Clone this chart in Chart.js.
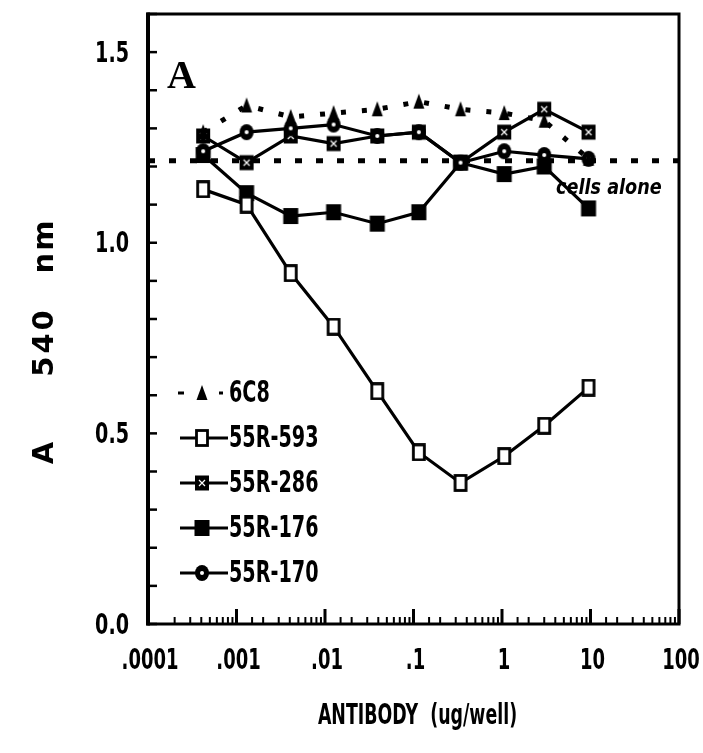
<!DOCTYPE html>
<html>
<head>
<meta charset="utf-8">
<script src="https://cdn.jsdelivr.net/npm/chart.js@4.4.0/dist/chart.umd.min.js"></script>
<style>
  html, body { margin: 0; padding: 0; background: #fff; }
  #wrap { width: 703px; height: 753px; }
</style>
</head>
<body>
<div id="wrap"><canvas id="chart"></canvas></div>
<script>
// antibody dose (ug/well) of each well, as placed on the log axis
const doses = [0.00042, 0.0013, 0.0041, 0.0125, 0.039, 0.115, 0.34, 1.06, 3.0, 9.5];

// A 540 nm for each antibody
const s6C8    = [1.29, 1.36, 1.33, 1.34, 1.35, 1.37, 1.35, 1.34, 1.32, 1.22];
const s55R593 = [1.14, 1.10, 0.92, 0.78, 0.61, 0.45, 0.37, 0.44, 0.52, 0.62];
const s55R286 = [1.28, 1.21, 1.28, 1.26, 1.28, 1.29, 1.21, 1.29, 1.35, 1.29];
const s55R176 = [1.23, 1.13, 1.07, 1.08, 1.05, 1.08, 1.21, 1.18, 1.20, 1.09];
const s55R170 = [1.24, 1.29, 1.30, 1.31, 1.28, 1.29, 1.21, 1.24, 1.23, 1.22];
const cellsAlone = 1.215;

const seriesNames = ['6C8', '55R-593', '55R-286', '55R-176', '55R-170'];
const xTickLabels = ['.0001', '.001', '.01', '.1', '1', '10', '100'];
const yTickLabels = ['0.0', '0.5', '1.0', '1.5'];
const yTitleParts = ['A', '540', 'nm'];

const heavy = "'DejaVu Sans', 'Liberation Sans', sans-serif";

// little canvases used as point markers
const marker = (kind) => {
    const c = document.createElement('canvas');
    c.width = 18; c.height = 18;
    const g = c.getContext('2d');
    g.fillStyle = '#000';
    g.strokeStyle = '#000';
    if (kind === 'open') {
        g.fillStyle = '#fff';
        g.fillRect(3.5, 1.5, 11, 15);
        g.lineWidth = 2.8;
        g.strokeRect(3.5, 1.5, 11, 15);
    } else if (kind === 'filled') {
        g.fillRect(1.5, 1, 15, 16);
    } else if (kind === 'crossed') {
        g.fillRect(2, 1.5, 14, 15);
        g.strokeStyle = '#fff';
        g.lineWidth = 1.2;
        g.beginPath();
        g.moveTo(6, 6); g.lineTo(12, 12);
        g.moveTo(12, 6); g.lineTo(6, 12);
        g.stroke();
    } else if (kind === 'circle') {
        g.beginPath();
        g.ellipse(9, 9, 7, 8, 0, 0, Math.PI * 2);
        g.fill();
        g.fillStyle = '#fff';
        g.beginPath();
        g.arc(9, 9, 2, 0, Math.PI * 2);
        g.fill();
    } else if (kind === 'triangle') {
        g.beginPath();
        g.moveTo(9, 1); g.lineTo(14.5, 16); g.lineTo(3.5, 16);
        g.closePath();
        g.fill();
    }
    return c;
};

const markers = {
    '6C8': marker('triangle'),
    '55R-593': marker('open'),
    '55R-286': marker('crossed'),
    '55R-176': marker('filled'),
    '55R-170': marker('circle')
};

const toPoints = (ys) => doses.map((d, i) => ({ x: d, y: ys[i] }));

const lineSet = (name, ys, dashed) => ({
    label: name,
    data: toPoints(ys),
    borderColor: '#000',
    backgroundColor: '#000',
    borderWidth: dashed ? 5 : 3.2,
    borderDash: dashed ? [5, 16] : [],
    pointStyle: markers[name],
    pointRadius: 9,
    pointHoverRadius: 9,
    tension: 0
});

// condensed heavy text: normal bold face squeezed sideways
const squeezed = (ctx, text, x, y, size, sx, align) => {
    ctx.save();
    ctx.font = `bold ${size}px ${heavy}`;
    ctx.textBaseline = 'middle';
    const w = ctx.measureText(text).width * sx;
    let left = x;
    if (align === 'center') left = x - w / 2;
    if (align === 'right') left = x - w;
    ctx.translate(left, y);
    ctx.scale(sx, 1);
    ctx.textAlign = 'left';
    ctx.fillText(text, 0, 0);
    ctx.restore();
};

// frame, inward ticks, tick labels, titles, legend and notes
const decorations = {
    id: 'decorations',
    afterDraw(chart) {
        const { ctx, chartArea: a, scales: { x, y } } = chart;
        ctx.save();
        ctx.strokeStyle = '#000';
        ctx.fillStyle = '#000';

        // box
        ctx.lineWidth = 3;
        ctx.strokeRect(a.left, a.top, a.right - a.left, a.bottom - a.top);
        ctx.lineWidth = 4;
        ctx.beginPath();
        ctx.moveTo(a.left, a.top - 1.5); ctx.lineTo(a.left, a.bottom + 1.5);
        ctx.stroke();

        // y ticks every 0.1, pointing in, labels every 0.5
        ctx.lineWidth = 2.5;
        y.ticks.forEach(t => {
            const py = y.getPixelForValue(t.value);
            ctx.beginPath();
            ctx.moveTo(a.left, py); ctx.lineTo(a.left + 9, py);
            ctx.stroke();
            const k = Math.round(t.value * 10);
            if (k % 5 === 0) squeezed(ctx, yTickLabels[k / 5], 129, py + 2, 29, 0.66, 'right');
        });

        // x ticks 1..9 per decade, pointing up, labels at decades
        x.ticks.forEach(t => {
            const px = x.getPixelForValue(t.value);
            const lg = Math.log10(t.value);
            const major = Math.abs(lg - Math.round(lg)) < 1e-6;
            ctx.lineWidth = major ? 3 : 2;
            ctx.beginPath();
            ctx.moveTo(px, a.bottom); ctx.lineTo(px, a.bottom - (major ? 15 : 7));
            ctx.stroke();
            if (major) squeezed(ctx, xTickLabels[Math.round(lg) + 4], px + 2, 661, 29, 0.62, 'center');
        });

        // axis titles
        squeezed(ctx, 'ANTIBODY  (ug/well)', (a.left + a.right) / 2 + 4, 716, 29, 0.6, 'center');
        ctx.save();
        ctx.translate(45, 0);
        ctx.rotate(-Math.PI / 2);
        ctx.font = `bold 29px ${heavy}`;
        ctx.textAlign = 'center';
        ctx.textBaseline = 'middle';
        const centres = [-452, -342, -246];
        yTitleParts.forEach((part, i) => {
            ctx.letterSpacing = part === '540' ? '3px' : '2px';
            ctx.fillText(part, centres[i], 0);
        });
        ctx.restore();

        // legend
        const rows = [393, 438, 483, 528, 573];
        seriesNames.forEach((name, i) => {
            const ly = rows[i];
            ctx.lineWidth = 3;
            if (name === '6C8') {
                ctx.fillRect(178, ly - 1.5, 6, 3);
                ctx.fillRect(219, ly - 1.5, 4, 3);
            } else {
                ctx.beginPath();
                ctx.moveTo(180, ly); ctx.lineTo(228, ly);
                ctx.stroke();
            }
            ctx.drawImage(markers[name], 202 - 9, ly - 9);
            squeezed(ctx, name, 229, ly + 1, 30, 0.64, 'left');
        });

        // panel letter
        ctx.font = "bold 40px 'Liberation Serif', 'DejaVu Serif', serif";
        ctx.textAlign = 'left';
        ctx.textBaseline = 'middle';
        ctx.fillText('A', 167, 78);

        // cells alone note
        ctx.save();
        ctx.font = `italic bold 21px ${heavy}`;
        ctx.translate(556, 189);
        ctx.scale(0.84, 1);
        ctx.fillText('cells alone', 0, 0);
        ctx.restore();
        ctx.restore();
    }
};

new Chart(document.getElementById('chart'), {
    type: 'line',
    data: {
        datasets: [
            {
                label: 'cells alone',
                data: [{ x: 0.0001, y: cellsAlone }, { x: 100, y: cellsAlone }],
                borderColor: '#000',
                borderWidth: 5,
                borderDash: [7, 14],
                pointRadius: 0,
                pointHoverRadius: 0
            },
            lineSet('6C8', s6C8, true),
            lineSet('55R-593', s55R593, false),
            lineSet('55R-170', s55R170, false),
            lineSet('55R-286', s55R286, false),
            lineSet('55R-176', s55R176, false)
        ]
    },
    options: {
        responsive: true,
        maintainAspectRatio: false,
        animation: false,
        layout: { padding: { left: 0, right: 24, top: 13, bottom: 0 } },
        plugins: {
            legend: { display: false },
            tooltip: { enabled: false }
        },
        scales: {
            x: {
                type: 'logarithmic',
                min: 0.0001,
                max: 100,
                afterFit: s => { s.height = 129; s.paddingLeft = 0; s.paddingRight = 0; },
                grid: { display: false, drawTicks: false },
                border: { display: false },
                ticks: { display: false, autoSkip: false }
            },
            y: {
                min: 0,
                max: 1.6,
                afterFit: s => { s.width = 148; s.paddingTop = 0; s.paddingBottom = 0; },
                grid: { display: false, drawTicks: false },
                border: { display: false },
                ticks: { display: false, stepSize: 0.1, autoSkip: false }
            }
        }
    },
    plugins: [decorations]
});
</script>
</body>
</html>
